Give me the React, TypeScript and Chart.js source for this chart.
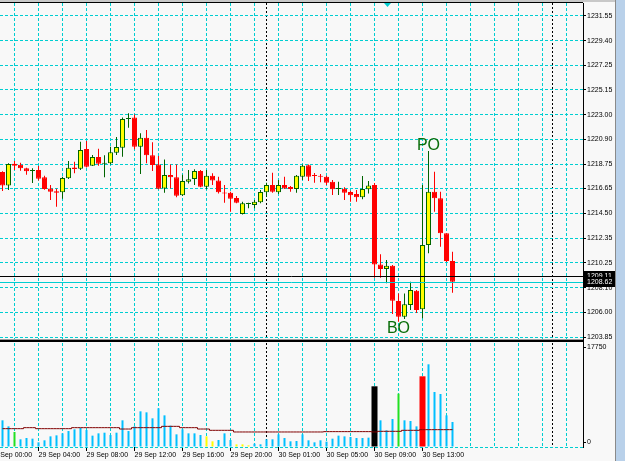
import React, { useEffect, useRef } from 'react';
import { Chart, registerables } from 'chart.js';

Chart.register(...registerables);

// ---------- data (XAUUSD M30, 29 Sep 01:00 .. 30 Sep 14:30) ----------
const OPEN = [
  1218.07, 1216.92, 1218.79, 1218.70, 1218.39, 1218.16, 1218.24, 1217.61, 1216.66, 1216.41,
  1216.32, 1217.53, 1218.47, 1218.36, 1220.05, 1218.62, 1219.37, 1218.79, 1218.82, 1219.74,
  1220.17, 1222.64, 1222.78, 1220.26, 1221.03, 1219.51, 1218.73, 1216.66, 1217.81, 1217.61,
  1216.06, 1217.24, 1217.47, 1218.16, 1216.81, 1217.76, 1217.35, 1216.29, 1216.29, 1215.83,
  1214.45, 1215.31, 1215.23, 1215.46, 1216.32, 1216.95, 1216.32, 1216.95, 1216.78, 1216.61,
  1217.67, 1218.65, 1217.78, 1217.76, 1217.67, 1217.24, 1216.61, 1216.64, 1216.35, 1216.17,
  1215.89, 1216.58, 1216.95, 1210.11, 1209.71, 1209.99, 1206.95, 1205.60, 1206.61, 1207.84,
  1206.24, 1211.78, 1216.37, 1215.80, 1212.79, 1210.40,
];
const HIGH = [
  1218.13, 1218.82, 1219.02, 1218.88, 1218.45, 1218.39, 1218.59, 1217.76, 1216.95, 1216.64,
  1217.67, 1219.02, 1218.96, 1220.69, 1220.74, 1219.54, 1220.08, 1219.51, 1220.26, 1221.09,
  1222.78, 1223.13, 1223.04, 1221.41, 1221.69, 1220.63, 1219.45, 1219.16, 1218.73, 1218.73,
  1217.84, 1218.24, 1218.30, 1218.24, 1218.24, 1217.96, 1217.67, 1216.95, 1216.38, 1216.00,
  1215.51, 1215.43, 1215.66, 1216.52, 1217.15, 1218.01, 1217.38, 1217.67, 1216.86, 1217.81,
  1218.73, 1218.73, 1217.99, 1217.90, 1217.76, 1217.38, 1217.24, 1216.75, 1216.46, 1216.52,
  1217.73, 1217.30, 1217.12, 1210.98, 1210.49, 1210.05, 1207.61, 1207.61, 1208.61, 1207.90,
  1216.95, 1219.88, 1218.10, 1216.37, 1212.79, 1211.20,
];
const LOW = [
  1216.43, 1216.52, 1218.24, 1218.19, 1217.84, 1217.12, 1217.35, 1216.55, 1215.66, 1215.08,
  1215.77, 1217.47, 1217.96, 1218.24, 1218.47, 1218.59, 1218.62, 1217.61, 1218.73, 1219.54,
  1219.39, 1221.89, 1220.03, 1217.90, 1218.82, 1218.16, 1216.58, 1216.29, 1216.66, 1215.89,
  1216.00, 1217.09, 1216.95, 1216.75, 1216.58, 1216.95, 1216.23, 1215.43, 1214.65, 1215.37,
  1214.42, 1214.94, 1214.94, 1215.37, 1215.94, 1216.29, 1216.17, 1216.61, 1216.38, 1216.29,
  1217.38, 1217.30, 1217.15, 1217.18, 1216.95, 1216.09, 1216.09, 1215.66, 1215.51, 1215.51,
  1215.72, 1216.23, 1208.96, 1208.96, 1208.48, 1205.83, 1205.17, 1205.40, 1206.17, 1205.92,
  1205.46, 1211.06, 1214.65, 1211.63, 1210.31, 1207.67,
];
const CLOSE = [
  1216.92, 1218.76, 1218.62, 1218.39, 1218.13, 1218.24, 1217.50, 1216.61, 1216.38, 1216.29,
  1217.55, 1218.45, 1218.33, 1219.97, 1218.53, 1219.37, 1218.79, 1218.85, 1219.77, 1220.23,
  1222.64, 1222.73, 1220.26, 1221.03, 1219.51, 1218.68, 1216.64, 1217.81, 1217.61, 1216.03,
  1217.30, 1217.44, 1218.16, 1216.81, 1217.76, 1217.35, 1216.32, 1216.23, 1215.77, 1215.43,
  1215.37, 1215.34, 1215.51, 1216.35, 1216.95, 1216.38, 1216.95, 1216.66, 1216.61, 1217.76,
  1218.62, 1217.67, 1217.73, 1217.67, 1217.15, 1216.58, 1216.66, 1216.29, 1216.06, 1215.89,
  1216.61, 1216.92, 1210.11, 1209.71, 1209.99, 1206.98, 1205.60, 1206.67, 1207.90, 1206.17,
  1211.78, 1216.37, 1215.80, 1212.79, 1210.40, 1208.62,
];
const VOLUME = [
  4510, 3490, 2540, 1300, 1520, 1410, 790, 1130, 1800, 1970,
  2310, 2700, 2990, 3210, 2870, 1920, 2310, 2420, 2030, 2420,
  4510, 2700, 3490, 6030, 5860, 4850, 6540, 5350, 3610, 2140,
  2990, 2310, 2310, 2030, 1800, 960, 1180, 2310, 1180, 450,
  450, 280, 560, 450, 1300, 1300, 2140, 1520, 960, 1010,
  2140, 1130, 790, 1130, 900, 1410, 1920, 1800, 1690, 1520,
  1520, 1580, 10260, 4510, 2820, 4730, 9020, 4510, 4400, 3490,
  11950, 13980, 9300, 8960, 5350, 4230,
];
// b = normal, y = low volume, g = churn, k = climax (black), r = climax (red)
const VOLUME_TYPE = [
  'b', 'b', 'g', 'b', 'b', 'b', 'b', 'b', 'b', 'b',
  'b', 'b', 'b', 'b', 'b', 'b', 'b', 'b', 'b', 'b',
  'b', 'b', 'b', 'b', 'b', 'b', 'b', 'b', 'b', 'b',
  'b', 'b', 'b', 'b', 'y', 'y', 'b', 'b', 'b', 'y',
  'y', 'y', 'b', 'b', 'b', 'b', 'b', 'b', 'b', 'b',
  'b', 'b', 'b', 'b', 'b', 'b', 'b', 'b', 'b', 'b',
  'b', 'b', 'k', 'b', 'b', 'b', 'g', 'b', 'b', 'b',
  'r', 'b', 'b', 'b', 'b', 'b',
];
const VOLUME_AVG = [
  3100, 3100, 3100, 3100, 3270, 3270, 3100, 3100, 3100, 3100,
  3100, 3100, 3270, 3270, 3270, 3270, 3270, 3270, 3270, 3270,
  3040, 3040, 3270, 3270, 3270, 3270, 3270, 3490, 3490, 3490,
  3270, 3270, 3270, 3040, 3040, 2820, 2820, 2820, 2820, 2540,
  2540, 2540, 2540, 2540, 2540, 2540, 2540, 2540, 2540, 2540,
  2540, 2540, 2540, 2540, 2600, 2600, 2600, 2600, 2600, 2600,
  2600, 2600, 2540, 2650, 2650, 2650, 2650, 2820, 2820, 2820,
  2930, 2930, 2930, 2930, 2930, 2930,
];

const PRICE_TICKS = [
  1231.55, 1229.40, 1227.25, 1225.15, 1223.00, 1220.90, 1218.75,
  1216.65, 1214.50, 1212.35, 1210.25, 1208.10, 1206.00, 1203.85,
];
const PRICE_MIN = 1203.42;
const PRICE_MAX = 1232.64;
const VOLUME_MIN = 0;
const VOLUME_MAX = 17750;

const TIME_LABELS = [
  '29 Sep 00:00', '29 Sep 04:00', '29 Sep 08:00', '29 Sep 12:00', '29 Sep 16:00',
  '29 Sep 20:00', '30 Sep 01:00', '30 Sep 05:00', '30 Sep 09:00', '30 Sep 13:00',
];
const TIME_LABEL_INDEX = [-2, 6, 14, 22, 30, 38, 46, 54, 62, 70];
const SEPARATOR_INDEX = [44, 91.67];
const X_MIN = -0.4166667;
const X_MAX = 96.75;

const LEVELS = [1209.11, 1208.62];
const LEVEL_COLORS = ['#000000', '#00ced1'];

const SIGNAL_TEXT = ['PO', 'BO'];
const SIGNAL_INDEX = [71, 66];
const SIGNAL_SIDE = ['high', 'low'];
const SHIFT_MARK_INDEX = 64;

// ---------- styles ----------
const FONT = "'Liberation Sans', Arial, sans-serif";
const BG = '#f8f8f8';
const CYAN = '#00ced1';
const BULL_BODY = '#ffff00';
const BULL_LINE = '#006400';
const BEAR = '#ff0000';
const VOL_COLORS: Record<string, string> = {
  b: '#00bfff', y: '#ffff00', g: '#22e022', k: '#000000', r: '#ff0000',
};
const VOL_LABEL_INSET = 5;

export default function App() {
  const canvasRef = useRef<HTMLCanvasElement | null>(null);

  useEffect(() => {
    document.body.style.margin = '0';
    const canvas = canvasRef.current;
    if (!canvas) return;

    const n = OPEN.length;
    const idx = Array.from({ length: n }, (_, i) => i);
    const bull = (i: number) => CLOSE[i] >= OPEN[i];

    const gridTicks: number[] = [];
    for (let v = -2; v <= 94; v += 4) gridTicks.push(v);
    const xTicks = [...gridTicks, ...SEPARATOR_INDEX].sort((a, b) => a - b);

    const wideIdx = idx.filter((i) => VOLUME_TYPE[i] === 'k' || VOLUME_TYPE[i] === 'r');
    const thinIdx = idx.filter((i) => !wideIdx.includes(i));

    const decor = {
      id: 'decor',
      afterLayout(chart: any) {
        // MT4 draws the subwindow max/min labels just inside the pane
        const s = chart.scales.yv;
        if (!s || !s.ticks || s.ticks.length < 3) return;
        const per = (s.max - s.min) / s.height;
        s.ticks[0].value = s.min;
        s.ticks[1].value = s.min + VOL_LABEL_INSET * per;
        s.ticks[2].value = s.max - VOL_LABEL_INSET * per;
      },
      beforeDraw(chart: any) {
        const { ctx, width, height } = chart;
        ctx.save();
        ctx.fillStyle = BG;
        ctx.fillRect(0, 0, width, height);
        ctx.restore();
      },
      afterDatasetsDraw(chart: any) {
        const { ctx, chartArea: a, scales } = chart;
        const xs = scales.x;
        const ys = scales.y;
        ctx.save();
        LEVELS.forEach((v, k) => {
          const py = Math.round(ys.getPixelForValue(v)) + 0.5;
          ctx.strokeStyle = LEVEL_COLORS[k];
          ctx.lineWidth = 1;
          ctx.beginPath();
          ctx.moveTo(a.left, py);
          ctx.lineTo(a.right, py);
          ctx.stroke();
        });
        // panel separator + top border
        ctx.fillStyle = '#9a9a9a';
        ctx.fillRect(a.left, ys.bottom - 3, a.right - a.left, 1);
        ctx.fillStyle = '#000000';
        ctx.fillRect(a.left, ys.bottom - 2, a.right - a.left, 2);
        ctx.fillRect(a.left, a.top - 1, a.right - a.left, 1);
        ctx.fillStyle = '#c8c8c8';
        ctx.fillRect(0, 0, chart.width, a.top - 1);
        // signal texts
        ctx.font = `16px ${FONT}`;
        ctx.fillStyle = '#0a6e0a';
        ctx.textAlign = 'center';
        SIGNAL_TEXT.forEach((t, k) => {
          const i = SIGNAL_INDEX[k];
          const px = xs.getPixelForValue(i);
          if (SIGNAL_SIDE[k] === 'high') {
            ctx.textBaseline = 'alphabetic';
            ctx.fillText(t, px, ys.getPixelForValue(HIGH[i]) - 1);
          } else {
            ctx.textBaseline = 'top';
            ctx.fillText(t, px, ys.getPixelForValue(LOW[i]) - 1);
          }
        });
        // chart shift marker
        const sx = Math.round(xs.getPixelForValue(SHIFT_MARK_INDEX));
        ctx.fillStyle = CYAN;
        ctx.beginPath();
        ctx.moveTo(sx - 3, a.top);
        ctx.lineTo(sx + 4, a.top);
        ctx.lineTo(sx + 0.5, a.top + 4);
        ctx.closePath();
        ctx.fill();
        ctx.restore();
      },
      afterDraw(chart: any) {
        const { ctx, chartArea: a, scales, width, height } = chart;
        const ys = scales.y;
        ctx.save();
        ctx.font = `7px ${FONT}`;
        ctx.textAlign = 'left';
        ctx.textBaseline = 'middle';
        LEVELS.forEach((v) => {
          const py = Math.round(ys.getPixelForValue(v));
          ctx.fillStyle = '#000000';
          ctx.fillRect(a.right + 1, py - 5, 31, 10);
          ctx.fillStyle = '#ffffff';
          ctx.fillText(v.toFixed(2), a.right + 4, py + 0.5);
        });
        // window frame at the right
        ctx.fillStyle = '#8a8a8a';
        ctx.fillRect(615, 0, 1, height);
        ctx.fillStyle = '#b9d1ea';
        ctx.fillRect(616, 0, width - 616, height);
        ctx.restore();
      },
    };

    const chart = new Chart(canvas, {
      type: 'bar',
      data: {
        datasets: [
          {
            type: 'bar',
            order: 0,
            xAxisID: 'x',
            yAxisID: 'y',
            data: idx.map((i) => ({ x: i, y: [OPEN[i], CLOSE[i]] })) as any,
            backgroundColor: idx.map((i) => (bull(i) ? BULL_BODY : BEAR)),
            borderColor: idx.map((i) => (bull(i) ? BULL_LINE : BEAR)),
            borderWidth: 1,
            borderSkipped: false,
            barThickness: 5,
            minBarLength: 1,
            grouped: false,
            inflateAmount: 0,
          } as any,
          {
            type: 'bar',
            order: 1,
            xAxisID: 'x',
            yAxisID: 'y',
            data: idx.map((i) => ({ x: i, y: [LOW[i], HIGH[i]] })) as any,
            backgroundColor: idx.map((i) => (bull(i) ? BULL_LINE : BEAR)),
            borderWidth: 0,
            barThickness: 1,
            grouped: false,
            inflateAmount: 0,
          } as any,
          {
            type: 'line',
            order: 2,
            xAxisID: 'x',
            yAxisID: 'yv',
            data: idx.map((i) => ({ x: i, y: VOLUME_AVG[i] })) as any,
            borderColor: '#800000',
            borderWidth: 1,
            pointRadius: 0,
            stepped: 'middle',
          } as any,
          {
            type: 'bar',
            order: 3,
            xAxisID: 'x',
            yAxisID: 'yv',
            data: thinIdx.map((i) => ({ x: i, y: VOLUME[i] })) as any,
            backgroundColor: thinIdx.map((i) => VOL_COLORS[VOLUME_TYPE[i]]),
            borderWidth: 0,
            barThickness: 2,
            grouped: false,
            inflateAmount: 0,
          } as any,
          {
            type: 'bar',
            order: 4,
            xAxisID: 'x',
            yAxisID: 'yv',
            data: wideIdx.map((i) => ({ x: i, y: VOLUME[i] })) as any,
            backgroundColor: wideIdx.map((i) => VOL_COLORS[VOLUME_TYPE[i]]),
            borderWidth: 0,
            barThickness: 6,
            grouped: false,
            inflateAmount: 0,
          } as any,
        ],
      },
      options: {
        responsive: false,
        animation: false,
        devicePixelRatio: 1,
        events: [],
        layout: { padding: { top: 3, left: 0, right: 0, bottom: 0 } },
        plugins: {
          legend: { display: false },
          tooltip: { enabled: false },
          title: { display: false },
        },
        scales: {
          x: {
            type: 'linear',
            position: 'bottom',
            offset: false,
            min: X_MIN,
            max: X_MAX,
            afterBuildTicks: (s: any) => {
              s.ticks = xTicks.map((v) => ({ value: v }));
            },
            afterFit: (s: any) => {
              s.height = 14;
              s.paddingLeft = 0;
              s.paddingRight = 0;
            },
            ticks: {
              autoSkip: false,
              maxRotation: 0,
              minRotation: 0,
              align: 'start',
              padding: 0,
              color: '#000000',
              font: { family: FONT, size: 7 },
              callback: (v: any) => {
                const k = TIME_LABEL_INDEX.indexOf(Number(v));
                return k >= 0 ? TIME_LABELS[k] : '';
              },
            },
            grid: {
              offset: false,
              color: (c: any) => (SEPARATOR_INDEX.includes(c.tick?.value) ? '#000000' : CYAN),
              lineWidth: 1,
              drawTicks: true,
              tickLength: 4,
              tickColor: (c: any) => (TIME_LABEL_INDEX.includes(c.tick?.value) ? '#000000' : 'rgba(0,0,0,0)'),
              tickBorderDash: [],
            },
            border: {
              display: false,
              dash: (c: any) => (SEPARATOR_INDEX.includes(c.tick?.value) ? [2, 2] : [3, 2]),
            },
          },
          y: {
            type: 'linear',
            position: 'right',
            stack: 'panes',
            stackWeight: 339,
            min: PRICE_MIN,
            max: PRICE_MAX,
            afterBuildTicks: (s: any) => {
              s.ticks = PRICE_TICKS.map((v) => ({ value: v }));
            },
            afterFit: (s: any) => {
              s.width = 42;
              s.paddingTop = 0;
              s.paddingBottom = 0;
            },
            ticks: {
              padding: 1,
              color: '#000000',
              font: { family: FONT, size: 7 },
              callback: (v: any) => Number(v).toFixed(2),
            },
            grid: {
              color: CYAN,
              lineWidth: 1,
              drawTicks: true,
              tickLength: 3,
              tickColor: '#000000',
              tickBorderDash: [],
            },
            border: { display: true, color: '#000000', width: 1, dash: [3, 2] },
          },
          yv: {
            type: 'linear',
            position: 'right',
            stack: 'panes',
            stackWeight: 105,
            min: VOLUME_MIN,
            max: VOLUME_MAX,
            afterBuildTicks: (s: any) => {
              s.ticks = [{ value: s.min }, { value: s.min }, { value: s.max }];
            },
            afterFit: (s: any) => {
              s.width = 42;
              s.paddingTop = 0;
              s.paddingBottom = 0;
            },
            ticks: {
              padding: 1,
              color: '#000000',
              font: { family: FONT, size: 7 },
              callback: (_v: any, i: number) => ['', String(VOLUME_MIN), String(VOLUME_MAX)][i],
            },
            grid: {
              color: (c: any) => (c.index === 0 ? CYAN : 'rgba(0,0,0,0)'),
              lineWidth: 1,
              drawTicks: true,
              tickLength: 3,
              tickColor: (c: any) => (c.index === 0 ? 'rgba(0,0,0,0)' : '#000000'),
              tickBorderDash: [],
            },
            border: { display: true, color: '#000000', width: 1, dash: [3, 2] },
          },
        },
      } as any,
      plugins: [decor],
    });

    return () => {
      chart.destroy();
    };
  }, []);

  return (
    <canvas
      ref={canvasRef}
      width={625}
      height={461}
      style={{ display: 'block', width: 625, height: 461 }}
    />
  );
}
